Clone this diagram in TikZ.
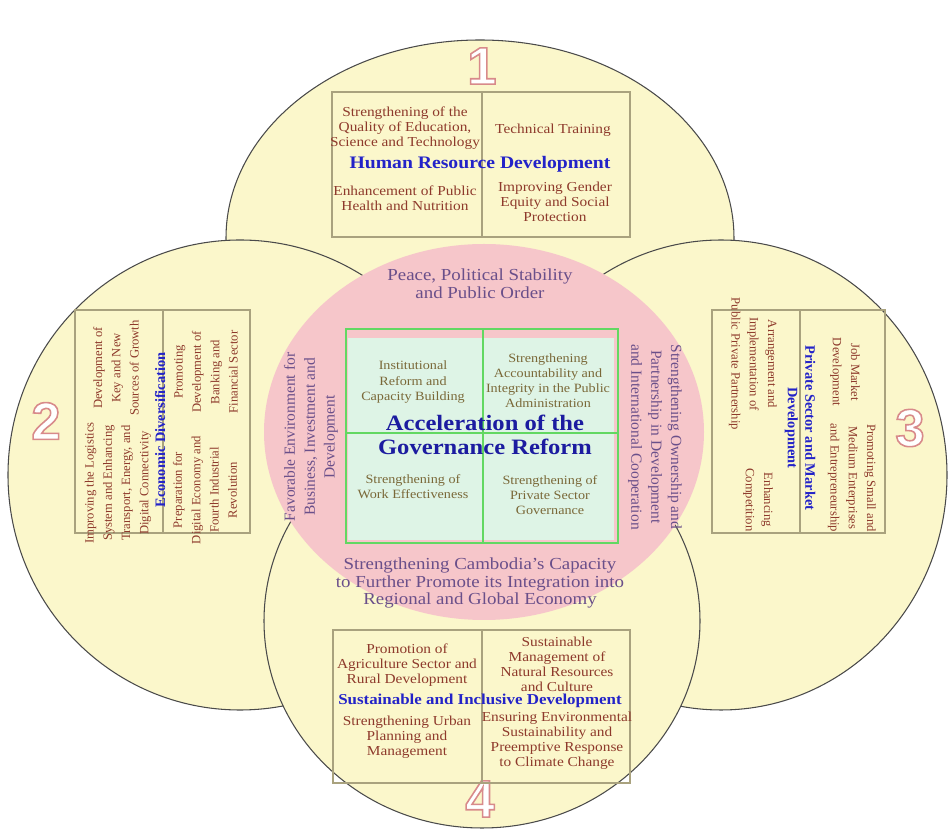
\documentclass[tikz,border=0pt]{standalone}
\usepackage{fontspec}
\setmainfont{Liberation Serif}[FakeStretch=1.12]
\newfontfamily\rotfont{Liberation Serif}
\newfontfamily\numfont{Liberation Sans}

\definecolor{petalfill}{HTML}{FBF7CB}
\definecolor{petalline}{HTML}{4A4A4A}
\definecolor{boxline}{HTML}{A9A27E}
\definecolor{pinkfill}{HTML}{F6C6CA}
\definecolor{greenline}{HTML}{62D862}
\definecolor{greenfill}{HTML}{DEF4E6}
\definecolor{itemred}{HTML}{8E3A2C}
\definecolor{headblue}{HTML}{2323C8}
\definecolor{pinktext}{HTML}{6A4F8A}
\definecolor{coretext}{HTML}{7A6838}
\definecolor{numline}{HTML}{D88A8A}

% outlined digits, white inside
\newcommand{\outlinenum}[1]{\special{pdf:literal direct 2 Tr 0.9 w 1 1 1 rg}#1\special{pdf:literal direct 0 Tr}}

\tikzset{
  petal/.style={fill=petalfill,draw=petalline,line width=0.6pt},
  box/.style={draw=boxline,line width=0.6pt},
  item/.style={text=itemred,align=center,inner sep=0pt,font=\fontsize{7.8}{8.6}\selectfont},
  rotitem/.style={text=itemred,align=center,inner sep=0pt,font=\rotfont\fontsize{7.2}{10.4}\selectfont},
  head/.style={text=headblue,inner sep=0pt,font=\bfseries\fontsize{10}{11}\selectfont},
  rothead/.style={text=headblue,align=center,inner sep=0pt,font=\rotfont\bfseries\fontsize{8.2}{10}\selectfont},
  pinktxt/.style={text=pinktext,align=center,inner sep=0pt,font=\fontsize{9.6}{10}\selectfont},
  rotpink/.style={text=pinktext,align=center,inner sep=0pt,font=\rotfont\fontsize{8.8}{11.3}\selectfont},
  coretxt/.style={text=coretext,align=center,inner sep=0pt,font=\fontsize{7.2}{8.6}\selectfont},
  coretitle/.style={text=headblue!80!black,align=center,inner sep=0pt,font=\bfseries\fontsize{12.5}{13.8}\selectfont},
  bignum/.style={text=numline,inner sep=0pt,font=\numfont\bfseries\fontsize{30}{30}\selectfont}
}

\begin{document}
\begin{tikzpicture}[x=0.02cm,y=-0.02cm]
\fill[white] (0,0) rectangle (951,830);
\useasboundingbox (0,0) rectangle (951,830);

% petals
\draw[petal] (480,238) ellipse [x radius=254, y radius=198];
\draw[petal] (240,475) ellipse [x radius=232, y radius=235];
\draw[petal] (721,475) ellipse [x radius=226, y radius=235];
\draw[petal] (482,621) ellipse [x radius=218, y radius=207];

% centre
\fill[pinkfill] (484,432) ellipse [x radius=220, y radius=188];
\fill[greenfill] (348,338) rectangle (614,540);
\draw[greenline,line width=1.2pt] (346,329) rectangle (618,543);
\draw[greenline,line width=0.7pt] (483,329) -- (483,543);
\draw[greenline,line width=0.7pt] (346,433) -- (618,433);

% 1
\node[bignum] (n1) at (482,66) {\outlinenum{1}};
\draw[box] (332,92) rectangle (630,237);
\draw[box] (482,92) -- (482,237);
\node[item] (hr1) at (405,128) {Strengthening of the\\Quality of Education,\\Science and Technology};
\node[item] (hr2) at (553,130) {Technical Training};
\node[head] (hrd) at (480,164) {Human Resource Development};
\node[item] (hr3) at (405,198) {Enhancement of Public\\Health and Nutrition};
\node[item] (hr4) at (555,202) {Improving Gender\\Equity and Social\\Protection};

% 2
\node[bignum] (n2) at (46,421) {\outlinenum{2}};
\draw[box] (75,310) rectangle (250,533);
\draw[box] (163,310) -- (163,533);
\node[rotitem,rotate=90] (ed1) at (116,368) {Development of\\Key and New\\Sources of Growth};
\node[rotitem,rotate=90] (ed2) at (206,372) {Promoting\\Development of\\Banking and\\Financial Sector};
\node[rothead,rotate=90] (ecd) at (160,430) {Economic Diversification};
\node[rotitem,rotate=90] (ed3) at (118,483) {Improving the Logistics\\System and Enhancing\\Transport, Energy, and\\Digital Connectivity};
\node[rotitem,rotate=90] (ed4) at (205,490) {Preparation for\\Digital Economy and\\Fourth Industrial\\Revolution};

% 3
\node[bignum] (n3) at (910,428) {\outlinenum{3}};
\draw[box] (712,310) rectangle (885,533);
\draw[box] (800,310) -- (800,533);
\node[rotitem,rotate=-90] (pm1) at (753,364) {Arrangement and\\Implementation of\\Public Private Partnership};
\node[rotitem,rotate=-90] (pm2) at (845,372) {Job Market\\Development};
\node[rothead,rotate=-90] (psm) at (800,428) {Private Sector and Market\\Development};
\node[rotitem,rotate=-90] (pm3) at (758,500) {Enhancing\\Competition};
\node[rotitem,rotate=-90] (pm4) at (852,478) {Promoting Small and\\Medium Enterprises\\and Entrepreneurship};

% 4
\node[bignum] (n4) at (480,799) {\outlinenum{4}};
\draw[box] (333,630) rectangle (630,783);
\draw[box] (482,630) -- (482,783);
\node[item] (sd1) at (407,665) {Promotion of\\Agriculture Sector and\\Rural Development};
\node[item] (sd2) at (557,664) {Sustainable\\Management of\\Natural Resources\\and Culture};
\node[head,font=\bfseries\fontsize{8.6}{9}\selectfont] (sid) at (480,701) {Sustainable and Inclusive Development};
\node[item] (sd3) at (407,737) {Strengthening Urban\\Planning and\\Management};
\node[item] (sd4) at (557,741) {Ensuring Environmental\\Sustainability and\\Preemptive Response\\to Climate Change};

% pink ring
\node[pinktxt] (peace) at (480,284) {Peace, Political Stability\\and Public Order};
\node[rotpink,rotate=90] (favor) at (311,437) {Favorable Environment for\\Business, Investment and\\Development};
\node[rotpink,rotate=-90] (owner) at (655,437) {Strengthening Ownership and\\Partnership in Development\\and International Cooperation};
\node[pinktxt] (capac) at (480,583) {Strengthening Cambodia's Capacity\\to Further Promote its Integration into\\Regional and Global Economy};

% core
\node[coretxt] (c1) at (413,382) {Institutional\\Reform and\\Capacity Building};
\node[coretxt] (c2) at (548,381) {Strengthening\\Accountability and\\Integrity in the Public\\Administration};
\node[coretitle] (agr) at (485,435) {Acceleration of the\\Governance Reform};
\node[coretxt] (c3) at (413,487) {Strengthening of\\Work Effectiveness};
\node[coretxt] (c4) at (550,495) {Strengthening of\\Private Sector\\Governance};
\end{tikzpicture}
\end{document}
